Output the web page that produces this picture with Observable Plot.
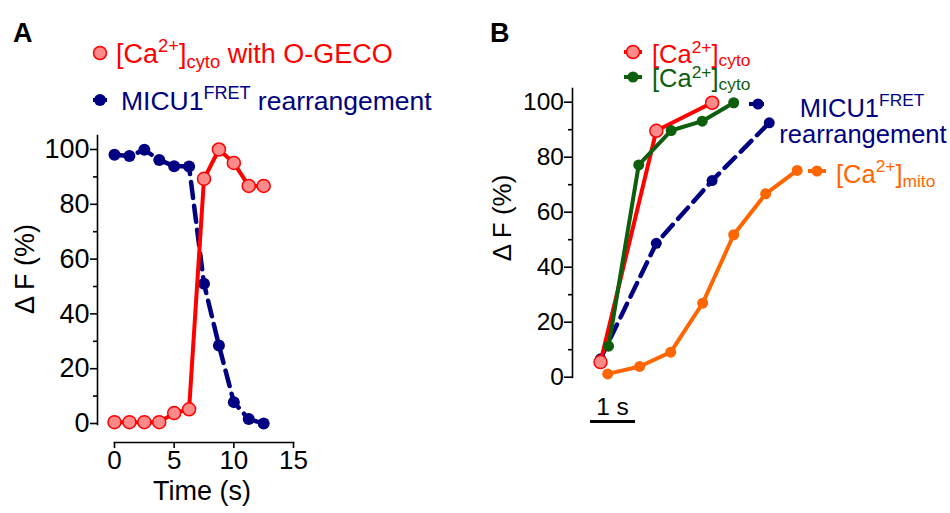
<!DOCTYPE html>
<html><head><meta charset="utf-8">
<script src="https://cdn.jsdelivr.net/npm/d3@7"></script>
<script src="https://cdn.jsdelivr.net/npm/@observablehq/plot@0.6"></script>
<style>
body{margin:0;background:#fff;}
#wrap{position:relative;width:950px;height:513px;overflow:hidden;font-family:"Liberation Sans",Arial,sans-serif;}
#wrap svg{position:absolute;top:0;}
</style></head><body><div id="wrap"></div>
<script>
// ---------- Panel A data ----------
const timeA = [0, 1.25, 2.5, 3.75, 5, 6.25, 7.5, 8.75, 10, 11.25, 12.5];
const cytoA = [0.5, 0.5, 0.5, 0.5, 3.8, 5.2, 89.3, 100, 95.1, 86.7, 86.7];
const micuA = [98.1, 97.6, 99.9, 96.2, 93.9, 93.8, 51, 28.5, 7.8, 1.6, 0];
const ticksAx = [0, 5, 10, 15];
const ticksAy = [0, 20, 40, 60, 80, 100];
const minorAy = [10, 30, 50, 70, 90];

// ---------- Panel B data ----------
const timeBred = [0, 1.24, 2.48];
const cytoBred = [5.5, 89.6, 99.8];
const timeBgreen = [0.18, 0.85, 1.57, 2.26, 2.96];
const cytoBgreen = [11.3, 77.2, 89.7, 93.1, 99.8];
const timeBblue = [0, 1.24, 2.48, 3.75];
const micuB = [6.7, 48.7, 71.5, 92.5];
const timeBorange = [0.16, 0.87, 1.56, 2.27, 2.96, 3.67, 4.37];
const mitoB = [1.2, 3.9, 9.1, 26.9, 51.8, 66.7, 75.2];
const ticksBy = [0, 20, 40, 60, 80, 100];
const minorBy = [10, 30, 50, 70, 90];

const RED = "#ff0000", PINK = "#ff8a8a", NAVY = "#000080", GREEN = "#0d5e0d", ORANGE = "#ff6600";
const FONT = "Liberation Sans, Arial, sans-serif";

const tbl = (xs, ys) => xs.map((t, i) => ({t, v: ys[i]}));
const A_cyto = tbl(timeA, cytoA), A_micu = tbl(timeA, micuA);
const B_red = tbl(timeBred, cytoBred), B_green = tbl(timeBgreen, cytoBgreen);
const B_blue = tbl(timeBblue, micuB), B_orange = tbl(timeBorange, mitoB);

const wrap = document.getElementById("wrap");

const plotA = Plot.plot({
  width: 475, height: 513,
  marginLeft: 97, marginTop: 135, marginBottom: 71, marginRight: 182,
  style: {background: "transparent", fontFamily: FONT, color: "black"},
  x: {domain: [0, 15], range: [114, 293]},
  y: {domain: [0, 100], range: [423, 149]},
  marks: [
    Plot.frame({anchor: "left", insetBottom: 18, strokeWidth: 1.6}),
    Plot.frame({anchor: "bottom", insetLeft: 17, strokeWidth: 1.6}),
    Plot.axisY({ticks: ticksAy, tickSize: 7, tickPadding: 1, fontSize: 27, label: null, strokeWidth: 1.6}),
    Plot.axisY({ticks: minorAy, tickSize: 4, text: null, label: null, strokeWidth: 1.6}),
    Plot.axisX({ticks: ticksAx, tickSize: 6, tickPadding: 2.5, fontSize: 26, label: null, strokeWidth: 1.6}),
    Plot.line(A_micu, {x: "t", y: "v", stroke: NAVY, strokeWidth: 4.5, strokeDasharray: "16,8"}),
    Plot.dot(A_micu, {x: "t", y: "v", r: 6, fill: NAVY}),
    Plot.line(A_cyto, {x: "t", y: "v", stroke: RED, strokeWidth: 4}),
    Plot.dot(A_cyto, {x: "t", y: "v", r: 6.5, fill: PINK, stroke: RED, strokeWidth: 1.5})
  ]
});
plotA.style.left = "0px";
wrap.appendChild(plotA);

const plotB = Plot.plot({
  width: 475, height: 513,
  marginLeft: 97, marginTop: 88, marginBottom: 136, marginRight: 0,
  style: {background: "transparent", fontFamily: FONT, color: "black"},
  x: {domain: [0, 5], range: [125, 350], axis: null},
  y: {domain: [0, 100], range: [376.7, 101.7]},
  marks: [
    Plot.frame({anchor: "left", strokeWidth: 1.6}),
    Plot.axisY({ticks: ticksBy, tickSize: 8, tickPadding: 0.5, fontSize: 24.5, label: null, strokeWidth: 1.6}),
    Plot.axisY({ticks: minorBy, tickSize: 4, text: null, label: null, strokeWidth: 1.6}),
    Plot.line(B_orange, {x: "t", y: "v", stroke: ORANGE, strokeWidth: 4}),
    Plot.dot(B_orange, {x: "t", y: "v", r: 5.5, fill: ORANGE}),
    Plot.line(B_blue, {x: "t", y: "v", stroke: NAVY, strokeWidth: 4.5, strokeDasharray: "15,8"}),
    Plot.dot(B_blue, {x: "t", y: "v", r: 5.5, fill: NAVY}),
    Plot.line(B_red, {x: "t", y: "v", stroke: RED, strokeWidth: 4}),
    Plot.dot(B_red, {x: "t", y: "v", r: 6.5, fill: PINK, stroke: RED, strokeWidth: 1.5}),
    Plot.line(B_green, {x: "t", y: "v", stroke: GREEN, strokeWidth: 4}),
    Plot.dot(B_green, {x: "t", y: "v", r: 5.5, fill: GREEN})
  ]
});
plotB.style.left = "475px";
wrap.appendChild(plotB);

// ---------- overlay: panel letters, legends, axis titles, scale bar ----------
const sx = plotB.scale("x");
const barLen = sx.apply(1) - sx.apply(0);

function glyph(cx, cy, half, color, fill, r, dash, sw) {
  return `<line x1="${cx-half}" x2="${cx+half}" y1="${cy}" y2="${cy}" stroke="${color}" stroke-width="4" ${dash ? 'stroke-dasharray="'+dash+'"' : ''}/>` +
         `<circle cx="${cx}" cy="${cy}" r="${r}" fill="${fill}" stroke="${color}" stroke-width="${sw||0}"/>`;
}
const sup = (s, fs, d) => `<tspan dy="${-d}" font-size="${fs}">${s}</tspan>`;
const ca = (sub, fs, up = 0.42, down = 0.17) =>
  `[Ca${sup("2+", fs*0.68, fs*up)}<tspan dy="${fs*up}">]</tspan><tspan dy="${fs*down}" font-size="${fs*0.68}">${sub}</tspan>`;

const ov = `
<svg xmlns="http://www.w3.org/2000/svg" width="950" height="513" style="left:0;pointer-events:none" font-family="${FONT}">
  <text x="13" y="42" font-size="27" font-weight="bold">A</text>
  <text x="490" y="42" font-size="27" font-weight="bold">B</text>

  ${glyph(100, 53, 6, RED, PINK, 6.5, null, 1.5)}
  <text x="116" y="63" font-size="27" fill="${RED}">${ca("cyto", 27)}<tspan dy="${-27*0.17}"> with O-GECO</tspan></text>
  ${glyph(100, 100, 7, NAVY, NAVY, 6)}
  <text x="121" y="110" font-size="26.5" fill="${NAVY}">MICU1${sup("FRET", 26.5*0.68, 26.5*0.42)}<tspan dy="${26.5*0.42}"> rearrangement</tspan></text>

  <text transform="translate(25,269) rotate(-90)" text-anchor="middle" dominant-baseline="central" font-size="27">Δ F (%)</text>
  <text x="202" y="500" text-anchor="middle" font-size="27">Time (s)</text>

  <text transform="translate(502,218) rotate(-90)" text-anchor="middle" dominant-baseline="central" font-size="26">Δ F (%)</text>

  ${glyph(633, 52, 9, RED, PINK, 6.5, null, 1.5)}
  <text x="652" y="63" font-size="25.5" fill="${RED}">${ca("cyto", 25.5, 0.4, 0.12)}</text>
  ${glyph(633, 77, 9, GREEN, GREEN, 5.5)}
  <text x="652" y="87" font-size="25.5" fill="${GREEN}">${ca("cyto", 25.5, 0.36, 0.12)}</text>
  ${glyph(758, 104, 9, NAVY, NAVY, 5.5, "6,3")}
  <text x="862" y="117" text-anchor="middle" font-size="25.5" fill="${NAVY}">MICU1${sup("FRET", 25.5*0.68, 25.5*0.42)}</text>
  <text x="863" y="143" text-anchor="middle" font-size="25.5" fill="${NAVY}">rearrangement</text>
  ${glyph(817, 171, 9, ORANGE, ORANGE, 5.5, "4,3")}
  <text x="836" y="183" font-size="25.5" fill="${ORANGE}">${ca("mito", 25.5)}</text>

  <line x1="590" x2="${590 + barLen}" y1="421.5" y2="421.5" stroke="black" stroke-width="3"/>
  <text x="${590 + barLen/2}" y="415" text-anchor="middle" font-size="24.5">1 s</text>
</svg>`;
wrap.insertAdjacentHTML("beforeend", ov);
</script>
</body></html>
